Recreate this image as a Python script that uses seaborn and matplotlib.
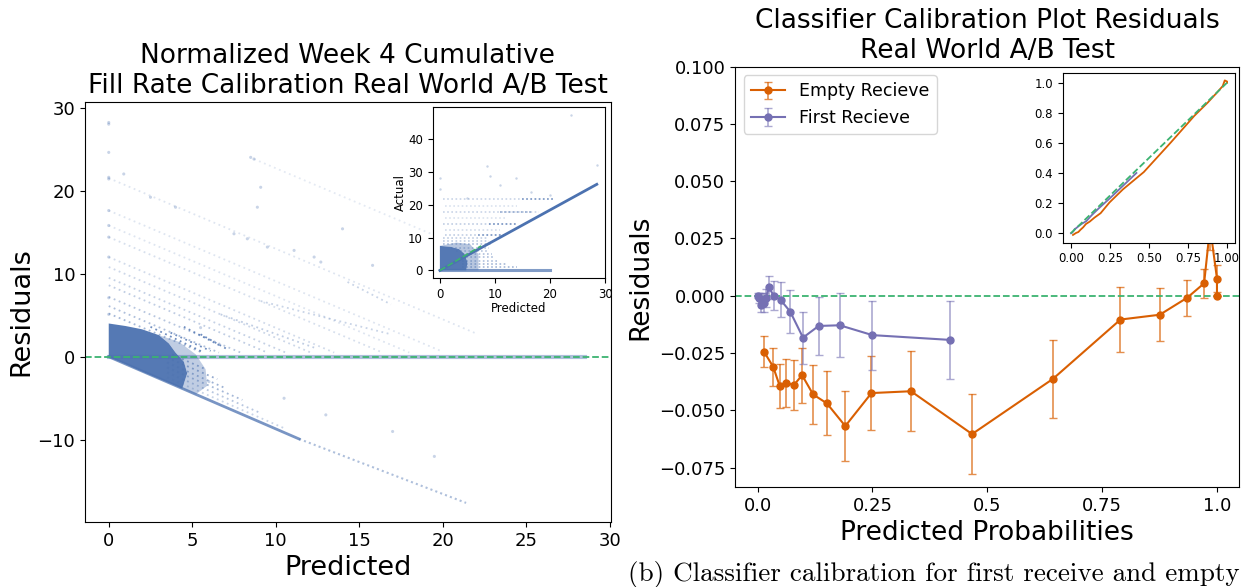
import numpy as np
import pandas as pd
import seaborn as sns
import matplotlib.pyplot as plt
from matplotlib.colors import to_rgba

# ---------------- data : left panel (fill rate residuals) ----------------
# streaks of points (predicted start, residual start, predicted end, residual end, alpha)
streak_p0 = [0.0, 0.0, 0.0, 0.0, 0.0, 0.0, 0.0, 0.0, 0.0, 0.0, 0.0, 8.7, 6.7, 9.1, 14.3, 3.7, 4.5,
             5.5, 2.5, 3.5, 3.5, 3.5, 3.5, 3.5, 3.8]
streak_r0 = [21.5, 17.6, 15.8, 14.4, 12.0, 10.8, 9.5, 8.6, 7.2, 6.1, 5.2, 23.8, 5.1, 6.7, 9.0, 2.9,
             3.6, 2.7, 3.6, -2.5, -1.9, -1.3, -0.7, -0.1, 0.25]
streak_p1 = [22.0, 20.0, 18.0, 16.4, 13.5, 12.1, 10.6, 9.5, 7.9, 6.6, 5.6, 22.0, 12.3, 16.9, 16.9,
             6.1, 6.8, 7.1, 5.6, 10.5, 9.0, 8.0, 7.0, 6.5, 5.8]
streak_r1 = [2.8, 0.6, 0.5, 0.5, 0.5, 0.5, 0.5, 0.5, 0.5, 0.5, 0.5, 12.5, 1.1, 2.7, 6.3, 0.7, 1.2,
             0.9, 0.6, -8.6, -6.7, -5.2, -3.8, -2.7, -1.5]
streak_a = [0.18, 0.18, 0.18, 0.22, 0.25, 0.28, 0.32, 0.35, 0.4, 0.45, 0.5, 0.15, 0.35, 0.3, 0.3,
            0.8, 0.8, 0.8, 0.8, 0.3, 0.4, 0.5, 0.55, 0.6, 0.6]

# lower edge (actual = 0) : solid part then sparse part
edge_p = [0.0, 11.4, 21.4]
edge_r = [0.0, -9.9, -17.6]

# dense core of points (outline) and its fading rim
core_p = [0.0, 0.0, 1.0, 2.0, 3.0, 3.6, 4.0, 4.5, 4.7, 4.4, 3.0, 2.0, 1.0]
core_r = [-0.05, 4.0, 3.7, 3.3, 2.6, 1.6, 0.5, -0.6, -2.0, -3.85, -2.65, -1.8, -0.9]
rim_p = [3.0, 4.2, 5.2, 5.8, 5.9, 5.2, 4.4, 4.7, 4.5, 4.0, 3.6]
rim_r = [2.6, 1.8, 0.3, -1.5, -3.5, -4.55, -3.85, -2.0, -0.6, 0.5, 1.6]

# isolated points
sparse_p = [0.0, 0.0, 0.0, 0.0, 0.0, 0.0, 0.0, 0.0, 0.0, 0.9, 2.5, 4.0, 8.7, 9.1, 8.9, 7.5, 8.3,
            14.0, 15.8, 9.5, 11.1, 12.3, 12.7, 8.5, 6.0, 10.5, 13.0, 17.0, 19.5, 5.5, 0.0, 0.0]
sparse_r = [28.2, 28.0, 24.6, 21.6, 21.4, 17.6, 15.8, 14.4, 12.0, 22.0, 19.2, 18.0, 23.8, 20.4, 18.0,
            14.8, 14.2, 15.4, 11.0, 13.2, 12.8, 12.0, 11.4, 24.0, -3.0, -5.0, -7.0, -9.0, -12.0, 3.5,
            7.1, 5.1]

# residual band along zero
band_p = [0.0, 28.5]
band_r = [0.0, 0.0]

# inset : actual vs predicted (horizontal streaks at fixed actual values)
in_level = [21.8, 19.7, 17.8, 16.0, 14.1, 12.5, 10.9, 21.8, 17.8, 14.1, 10.9,
            1.0, 2.0, 3.0, 4.0, 5.0, 6.0, 7.0, 8.0, 9.0, 10.0]
in_p0 = [0.6, 1.0, 0.6, 1.0, 0.5, 1.0, 1.0, 15.0, 11.0, 9.0, 7.0,
         4.0, 4.0, 4.0, 4.0, 4.0, 3.0, 2.0, 0.5, 0.5, 0.5]
in_p1 = [20.5, 14.0, 18.0, 12.0, 14.0, 11.0, 12.0, 20.5, 17.0, 14.0, 12.0,
         14.0, 12.0, 10.5, 10.0, 9.5, 9.0, 9.0, 9.5, 9.0, 8.5]
in_a = [0.3, 0.2, 0.3, 0.2, 0.35, 0.25, 0.35, 0.6, 0.6, 0.6, 0.6,
        0.5, 0.5, 0.45, 0.45, 0.45, 0.4, 0.4, 0.45, 0.35, 0.35]
in_core_p = [0.0, 0.0, 2.0, 3.5, 4.5, 5.0, 4.8]
in_core_a = [0.0, 7.5, 7.2, 6.5, 5.0, 2.5, 0.0]
in_rim_p = [0.0, 3.0, 5.5, 7.0, 7.0, 4.8, 5.0, 4.5, 3.5, 2.0, 0.0]
in_rim_a = [7.5, 8.5, 8.0, 5.0, 0.0, 0.0, 2.5, 5.0, 6.5, 7.2, 7.5]
in_out_p = [23.9, 8.6, 9.1, 13.9, 0.0, 28.5, 16.5, 20.0, 0.0, 5.0, 11.0]
in_out_a = [47.5, 31.9, 28.8, 28.3, 28.1, 32.3, 24.0, 23.0, 25.0, 22.0, 26.0]
zero_p = [0.0, 20.0]
fit_p = [0.0, 28.5]
fit_a = [0.0, 26.3]
diag_p = [0.0, 7.5]

# ---------------- data : right panel (classifier calibration) ----------------
empty_x = [0.014, 0.034, 0.0485, 0.062, 0.079, 0.097, 0.121, 0.151, 0.191, 0.248, 0.334, 0.467,
           0.643, 0.790, 0.8755, 0.935, 0.972, 0.985, 1.0, 1.0]
empty_y = [-0.0244, -0.031, -0.0395, -0.038, -0.039, -0.0347, -0.0431, -0.047, -0.0569, -0.0425,
           -0.0417, -0.0604, -0.0363, -0.0104, -0.0083, -0.0009, 0.0054, 0.03, 0.0075, 0.0]
empty_err = [0.0067, 0.0083, 0.0096, 0.0105, 0.011, 0.012, 0.0128, 0.014, 0.0154, 0.016, 0.0175,
             0.0175, 0.017, 0.0141, 0.0115, 0.0079, 0.0064, 0.01, 0.006, 0.0]

first_x = [0.001, 0.004, 0.007, 0.010, 0.014, 0.018, 0.025, 0.035, 0.050, 0.071, 0.099, 0.133,
           0.179, 0.250, 0.420]
first_y = [0.0, -0.001, -0.004, -0.002, -0.003, -0.001, 0.0037, 0.0, -0.0018, -0.0069, -0.0183,
           -0.0132, -0.0129, -0.0172, -0.0193]
first_err = [0.001, 0.002, 0.003, 0.003, 0.004, 0.004, 0.005, 0.0063, 0.0077, 0.0095, 0.0114,
             0.0126, 0.014, 0.0151, 0.0172]

blue = '#4c72b0'
orange = '#d95f02'
purple = '#7570b3'
green = '#3cb371'

fig = plt.figure(figsize=(12.46, 5.87), dpi=100)

# ---------------- left panel ----------------
ax1 = fig.add_axes([0.0681, 0.1107, 0.4219, 0.716])
for i in range(len(streak_p0)):
    ax1.plot([streak_p0[i], streak_p1[i]], [streak_r0[i], streak_r1[i]], color=blue,
             alpha=streak_a[i], lw=1.3, ls=(0, (1, 2)))
ax1.fill(rim_p, rim_r, color=blue, alpha=0.35, lw=0)
ax1.fill(core_p, core_r, color=blue, alpha=0.95, lw=0)
ax1.plot(edge_p[:2], edge_r[:2], color=blue, lw=2.0, alpha=0.75)
ax1.plot(edge_p[1:], edge_r[1:], color=blue, lw=1.5, alpha=0.45, ls=(0, (1, 1.5)))
ax1.plot(band_p, band_r, color=blue, lw=3, alpha=0.45)
sp = pd.DataFrame({'Predicted': sparse_p, 'Residuals': sparse_r})
sns.scatterplot(data=sp, x='Predicted', y='Residuals', ax=ax1, color=blue, s=5, alpha=0.3,
                edgecolor='none')
ax1.axhline(0, color=green, ls='--', lw=1.3)
ax1.set_xlim(-1.43, 30.05)
ax1.set_ylim(-19.9, 30.7)
ax1.set_xticks([0, 5, 10, 15, 20, 25, 30])
ax1.set_yticks([-10, 0, 10, 20, 30])
ax1.tick_params(labelsize=13)
ax1.set_xlabel('Predicted', fontsize=19.5)
ax1.set_ylabel('Residuals', fontsize=19.5, labelpad=2)
ax1.set_title('Normalized Week 4 Cumulative\nFill Rate Calibration Real World A/B Test',
              fontsize=19)

ins1 = fig.add_axes([0.3473, 0.5259, 0.1383, 0.2923])
for i in range(len(in_level)):
    ins1.plot([in_p0[i], in_p1[i]], [in_level[i], in_level[i]], color=blue, alpha=in_a[i],
              lw=1.2, ls=(0, (1, 1.5)))
ins1.fill(in_rim_p, in_rim_a, color=blue, alpha=0.4, lw=0)
ins1.fill(in_core_p, in_core_a, color=blue, alpha=0.95, lw=0)
ins1.plot(zero_p, [0, 0], color=blue, lw=2.2, alpha=0.7)
ins1.scatter(in_out_p, in_out_a, color=blue, s=3, alpha=0.3, lw=0)
ins1.plot(fit_p, fit_a, color=blue, lw=2)
ins1.plot(diag_p, diag_p, color=green, ls='--', lw=1.2)
ins1.set_xlim(-1.3, 29.8)
ins1.set_ylim(-2.4, 50)
ins1.set_xticks([0, 10, 20, 30])
ins1.set_yticks([0, 10, 20, 30, 40])
ins1.tick_params(labelsize=8.5)
ins1.set_xlabel('Predicted', fontsize=8.5, labelpad=1)
ins1.set_ylabel('Actual', fontsize=8.5, labelpad=1)

# ---------------- right panel ----------------
ax2 = fig.add_axes([0.5899, 0.1704, 0.4045, 0.716])
ax2.errorbar(empty_x, empty_y, yerr=empty_err, fmt='-o', color=orange, ms=5, lw=1.5,
             ecolor=to_rgba(orange, 0.7), elinewidth=1.2, capsize=3, label='Empty Recieve')
ax2.errorbar(first_x, first_y, yerr=first_err, fmt='-o', color=purple, ms=5, lw=1.5,
             ecolor=to_rgba(purple, 0.6), elinewidth=1.2, capsize=3, label='First Recieve')
ax2.axhline(0, color=green, ls='--', lw=1.3)
ax2.set_xlim(-0.049, 1.048)
ax2.set_ylim(-0.0835, 0.1)
ax2.set_xticks([0, 0.25, 0.5, 0.75, 1.0])
ax2.set_xticklabels(['0.0', '0.25', '0.5', '0.75', '1.0'])
ax2.set_yticks([-0.075, -0.05, -0.025, 0, 0.025, 0.05, 0.075, 0.1])
ax2.set_yticklabels(['\u22120.075', '\u22120.050', '\u22120.025', '0.000', '0.025', '0.050',
                     '0.075', '0.100'])
ax2.tick_params(labelsize=13)
ax2.set_xlabel('Predicted Probabilities', fontsize=19)
ax2.set_ylabel('Residuals', fontsize=19)
ax2.set_title('Classifier Calibration Plot Residuals\nReal World A/B Test', fontsize=19)
ax2.legend(loc='upper left', fontsize=12.5)

ins2 = fig.add_axes([0.8531, 0.5866, 0.138, 0.2896])
ins2.plot(empty_x, np.array(empty_x) + np.array(empty_y), color=orange, lw=1.3)
ins2.plot(first_x, np.array(first_x) + np.array(first_y), color=purple, lw=1.3)
ins2.plot([0, 1], [0, 1], color=green, ls='--', lw=1.3)
ins2.set_xticks([0, 0.25, 0.5, 0.75, 1.0])
ins2.set_xticklabels(['0.00', '0.25', '0.50', '0.75', '1.00'])
ins2.set_yticks([0, 0.2, 0.4, 0.6, 0.8, 1.0])
ins2.tick_params(labelsize=8.5)

fig.text(628 / 1246, 12 / 587, '(b) Classifier calibration for first receive and empty',
         fontsize=19.5, family='cmr10', va='center', ha='left')

fig.savefig('out.png', dpi=100)
